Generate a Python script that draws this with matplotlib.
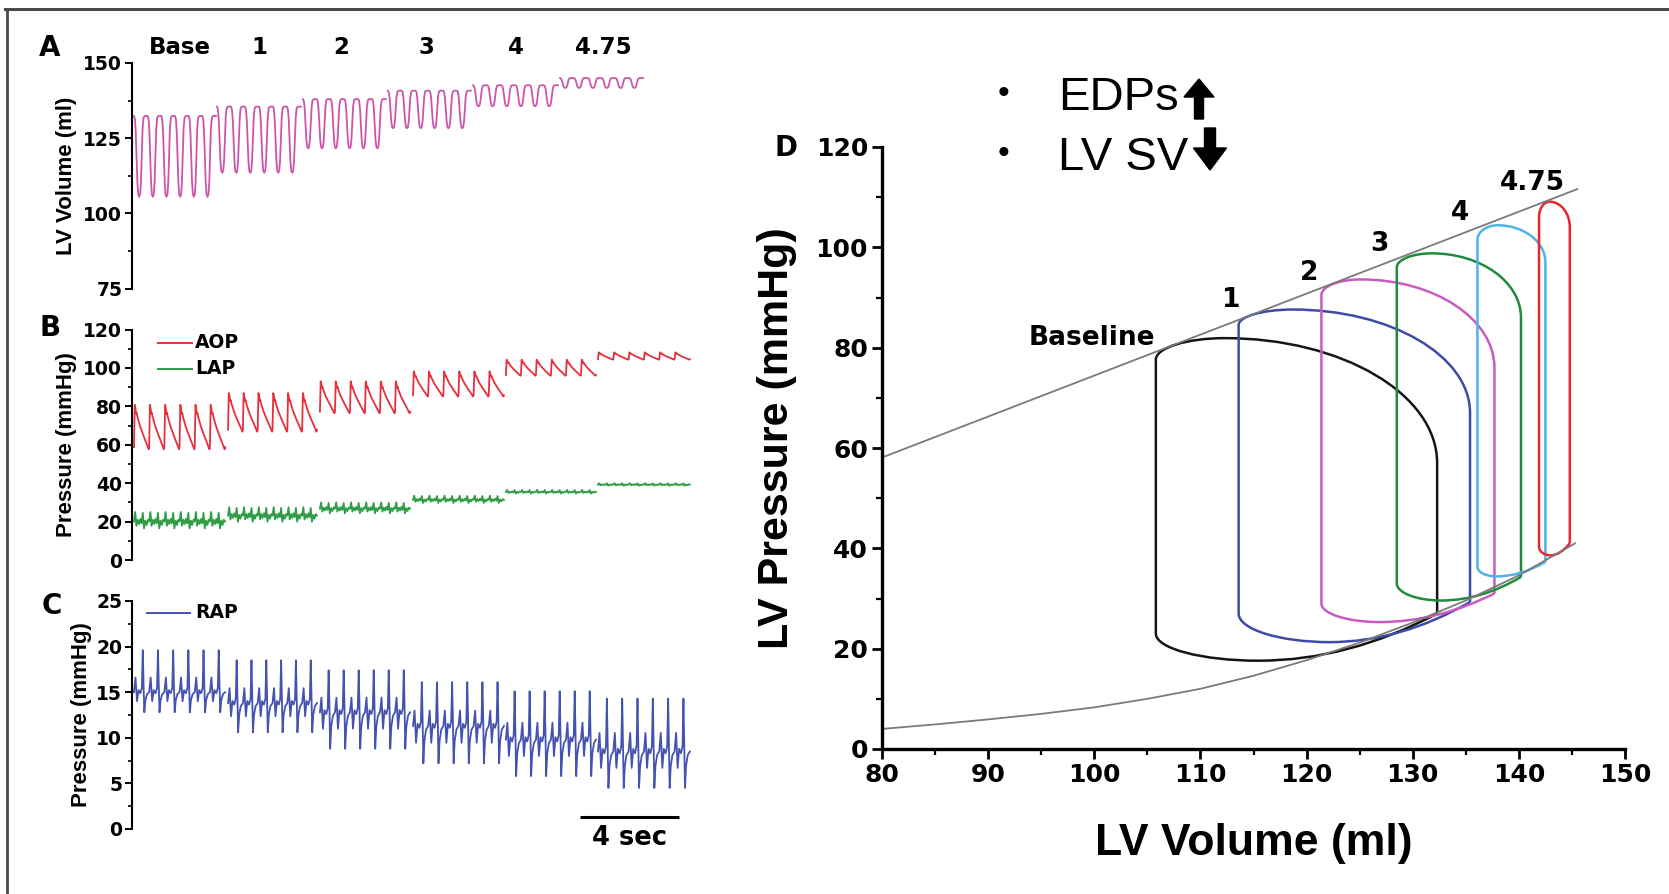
import numpy as np
import matplotlib
matplotlib.use("Agg")
import matplotlib.pyplot as plt
from matplotlib.path import Path
from matplotlib.patches import PathPatch, FancyArrow
from matplotlib.lines import Line2D
from matplotlib.ticker import MultipleLocator
import matplotlib.transforms as mtransforms

W, H = 1669, 894

# ------------------------------------------------------------------ data
stages = ["Base", "1", "2", "3", "4", "4.75"]
beats_per_stage = [6, 6, 6, 6, 6, 6]

# Panel A : LV volume (ml); time in seconds
lvv_seg_start = [0.08, 3.44, 6.92, 10.36, 13.81, 17.33]
lvv_seg_end = [3.40, 6.84, 10.28, 13.72, 17.25, 20.69]
lvv_min = [105.5, 113.5, 121.6, 128.3, 135.6, 141.7]
lvv_max = [132.4, 135.5, 138.0, 140.8, 142.6, 145.0]
lvv_beat_phase = [0.00, 0.07, 0.13, 0.19, 0.25, 0.31, 0.38, 0.45, 0.51, 0.57, 0.63, 0.70, 0.80]
lvv_beat_shape = [1.00, 0.96, 0.80, 0.50, 0.18, 0.03, 0.00, 0.03, 0.18, 0.52, 0.84, 0.98, 1.00]

# Panels B / C segments
bc_seg_start = [0.08, 3.89, 7.61, 11.38, 15.14, 18.87]
bc_seg_end = [3.77, 7.49, 11.26, 15.06, 18.79, 22.59]

aop_min = [57.6, 66.8, 76.4, 85.1, 95.9, 104.3]
aop_max = [80.8, 86.9, 93.0, 98.2, 104.3, 108.1]
aop_beat_phase = [0.00, 0.05, 0.09, 0.14, 0.18, 0.22, 0.40, 0.60, 0.80, 0.97]
aop_beat_shape = [0.05, 1.00, 0.93, 0.80, 0.82, 0.74, 0.52, 0.33, 0.15, 0.00]

lap_min = [16.0, 19.5, 24.0, 29.5, 34.5, 38.6]
lap_max = [25.0, 27.5, 30.0, 33.5, 36.5, 40.0]
lap_beat_phase = [0.00, 0.08, 0.16, 0.25, 0.33, 0.42, 0.50, 0.58, 0.66, 0.75, 0.83, 0.92]
lap_beat_shape = [0.45, 1.00, 0.20, 0.55, 0.30, 0.60, 0.35, 0.95, 0.05, 0.50, 0.25, 0.55]

rap_trough = [12.8, 10.6, 8.8, 7.2, 5.8, 4.5]
rap_mid = [15.0, 13.8, 12.8, 11.3, 9.8, 8.5]
rap_peak = [19.6, 18.5, 17.4, 16.1, 15.1, 14.3]
rap_beat_phase = [0.00, 0.10, 0.20, 0.30, 0.42, 0.52, 0.58, 0.63, 0.68, 0.75, 0.86]
rap_beat_shape = [1.00, 1.35, 0.55, 1.05, 0.95, 1.10, 2.00, 1.20, 0.00, 0.60, 0.90]

scale_bar_start = 18.14
scale_bar_seconds = 4

# Panel D : PV loops
loop_labels = ["Baseline", "1", "2", "3", "4", "4.75"]
loop_colors = ["#151515", "#3d4aa8", "#c85bbf", "#1e8c3c", "#4db4ea", "#e8262e"]
esv = [105.8, 113.6, 121.4, 128.5, 136.1, 141.9]
edv = [132.3, 135.4, 137.7, 140.2, 142.5, 144.8]
v_peak = [112.3, 118.7, 125.1, 131.8, 138.0, 142.9]
p_peak = [81.9, 87.6, 93.6, 98.8, 104.4, 109.1]
p_left_top = [77.6, 84.5, 90.5, 96.0, 101.5, 106.0]
p_right_top = [57.0, 67.0, 76.0, 86.0, 97.0, 104.0]
p_left_bottom = [23.0, 27.0, 29.0, 33.0, 36.3, 40.3]
v_min = [115.5, 122.2, 126.9, 132.7, 137.9, 143.0]
p_min = [17.6, 21.3, 25.3, 29.6, 34.4, 38.6]
edp = [27.0, 29.3, 31.0, 34.3, 37.3, 41.0]
label_vol = [99.8, 112.9, 120.2, 126.9, 134.5, 141.3]
label_p = [82.0, 89.6, 94.9, 100.6, 106.9, 112.9]

espvr_vol = [80.0, 145.5]
espvr_p = [58.1, 111.6]
edpvr_vol = [80, 85, 90, 95, 100, 105, 110, 115, 120, 125, 130, 135, 140, 145.3]
edpvr_p = [4.0, 4.9, 5.9, 7.0, 8.3, 10.0, 12.0, 14.6, 17.7, 21.2, 25.2, 29.6, 34.6, 41.0]

# ------------------------------------------------------------------ helpers
def fx(x):
    return x / W


def fy(y):
    return 1 - y / H


def axrect(x0, x1, ytop, ybot):
    return [fx(x0), fy(ybot), (x1 - x0) / W, (ybot - ytop) / H]


def tile(starts, ends, nbeats, phase, shape, level):
    ts, ys = [], []
    for i, (s, e, n) in enumerate(zip(starts, ends, nbeats)):
        d = (e - s) / n
        for b in range(n):
            for ph, v in zip(phase, shape):
                ts.append(s + (b + ph) * d)
                ys.append(level(i, v))
        ts.append(e)
        ys.append(level(i, shape[0]))
        ts.append(np.nan)
        ys.append(np.nan)
    return np.array(ts), np.array(ys)


BOLD_DV = dict(family=["DejaVu Sans"], weight="bold")
LIB = ["Liberation Sans", "DejaVu Sans"]

fig = plt.figure(figsize=(W / 100, H / 100), dpi=100)
fig.patch.set_facecolor("white")

# outer frame (top and left)
fig.add_artist(Line2D([fx(5), 1.0], [fy(9), fy(9)], color="#4a4a4a", lw=2.2, transform=fig.transFigure))
fig.add_artist(Line2D([fx(7), fx(7)], [fy(9), 0.0], color="#4a4a4a", lw=2.0, transform=fig.transFigure))


def style_trace_axis(ax, ymin, ymax, major, minor):
    ax.set_xlim(0, 23.0)
    ax.set_ylim(ymin, ymax)
    for s in ["top", "right", "bottom"]:
        ax.spines[s].set_visible(False)
    ax.spines["left"].set_linewidth(1.5)
    ax.set_xticks([])
    ax.yaxis.set_major_locator(MultipleLocator(major))
    ax.yaxis.set_minor_locator(MultipleLocator(minor))
    ax.tick_params(axis="y", which="major", length=5, width=1.4, pad=2, direction="out")
    ax.tick_params(axis="y", which="minor", length=3, width=1.2, direction="out")
    for lab in ax.get_yticklabels():
        lab.set_fontfamily("DejaVu Sans")
        lab.set_fontweight("bold")
        lab.set_fontsize(13.5)
    ax.patch.set_alpha(0)


# ---------------- Panel A
axA = fig.add_axes(axrect(132, 700, 63, 288.5))
tA, yA = tile(lvv_seg_start, lvv_seg_end, beats_per_stage, lvv_beat_phase, lvv_beat_shape,
              lambda i, v: lvv_min[i] + v * (lvv_max[i] - lvv_min[i]))
axA.plot(tA, yA, color="#cc55aa", lw=1.3)
style_trace_axis(axA, 75, 150, 25, 12.5)
fig.text(fx(50), fy(48), "A", fontsize=20, ha="center", va="center", **BOLD_DV)
fig.text(fx(66), fy(176), "LV Volume (ml)", rotation=90, fontsize=16, fontweight="bold",
         family=LIB, ha="center", va="center")
stage_x = [180, 259, 341.5, 426, 515.6, 603.6]
for s, x in zip(stages, stage_x):
    fig.text(fx(x), fy(48), s, fontsize=16.5, ha="center", va="center", **BOLD_DV)

# ---------------- Panel B
axB = fig.add_axes(axrect(132, 700, 329.5, 560))
tB, yB = tile(bc_seg_start, bc_seg_end, beats_per_stage, aop_beat_phase, aop_beat_shape,
              lambda i, v: aop_min[i] + v * (aop_max[i] - aop_min[i]))
axB.plot(tB, yB, color="#e8303c", lw=1.3)
tL, yL = tile(bc_seg_start, bc_seg_end, beats_per_stage, lap_beat_phase, lap_beat_shape,
              lambda i, v: lap_min[i] + v * (lap_max[i] - lap_min[i]))
axB.plot(tL, yL, color="#2f9d46", lw=1.3)
style_trace_axis(axB, 0, 120, 20, 10)
fig.text(fx(50), fy(328), "B", fontsize=20, ha="center", va="center", **BOLD_DV)
fig.text(fx(66), fy(445), "Pressure (mmHg)", rotation=90, fontsize=16, fontweight="bold",
         family=LIB, ha="center", va="center")
fig.add_artist(Line2D([fx(158), fx(192)], [fy(343), fy(343)], color="#e8303c", lw=1.4, transform=fig.transFigure))
fig.add_artist(Line2D([fx(158), fx(192)], [fy(369), fy(369)], color="#2f9d46", lw=1.4, transform=fig.transFigure))
fig.text(fx(195), fy(343), "AOP", fontsize=13.5, ha="left", va="center", **BOLD_DV)
fig.text(fx(195), fy(369), "LAP", fontsize=13.5, ha="left", va="center", **BOLD_DV)

# ---------------- Panel C
axC = fig.add_axes(axrect(132, 700, 601, 829))


def rap_level(i, v):
    if v <= 1:
        return rap_trough[i] + v * (rap_mid[i] - rap_trough[i])
    return rap_mid[i] + (v - 1) * (rap_peak[i] - rap_mid[i])


tC, yC = tile(bc_seg_start, bc_seg_end, beats_per_stage, rap_beat_phase, rap_beat_shape, rap_level)
axC.plot(tC, yC, color="#4453b0", lw=1.3)
style_trace_axis(axC, 0, 25, 5, 2.5)
fig.text(fx(52), fy(606), "C", fontsize=20, ha="center", va="center", **BOLD_DV)
fig.text(fx(81), fy(715), "Pressure (mmHg)", rotation=90, fontsize=16, fontweight="bold",
         family=LIB, ha="center", va="center")
fig.add_artist(Line2D([fx(147), fx(190)], [fy(613), fy(613)], color="#4453b0", lw=1.4, transform=fig.transFigure))
fig.text(fx(195), fy(613), "RAP", fontsize=13.5, ha="left", va="center", **BOLD_DV)
axC.plot([scale_bar_start, scale_bar_start + scale_bar_seconds], [1.3, 1.3], color="black", lw=2.2,
         clip_on=False, solid_capstyle="butt")
axC.text(scale_bar_start + scale_bar_seconds / 2, -1.0, f"{scale_bar_seconds} sec", fontsize=18.5,
         ha="center", va="center", clip_on=False, **BOLD_DV)

# ---------------- Panel D
axD = fig.add_axes(axrect(882, 1625, 147, 749))
axD.set_xlim(80, 150)
axD.set_ylim(0, 120)
for s in ["top", "right"]:
    axD.spines[s].set_visible(False)
for s in ["left", "bottom"]:
    axD.spines[s].set_linewidth(2.4)
axD.xaxis.set_major_locator(MultipleLocator(10))
axD.xaxis.set_minor_locator(MultipleLocator(5))
axD.yaxis.set_major_locator(MultipleLocator(20))
axD.yaxis.set_minor_locator(MultipleLocator(10))
axD.tick_params(which="major", length=7, width=2.0, direction="out", pad=3)
axD.tick_params(which="minor", length=4, width=1.6, direction="out")
for lab in axD.get_xticklabels() + axD.get_yticklabels():
    lab.set_fontfamily("DejaVu Sans")
    lab.set_fontweight("bold")
    lab.set_fontsize(18)

axD.plot(espvr_vol, espvr_p, color="#7a7a7a", lw=1.3)
axD.plot(edpvr_vol, edpvr_p, color="#7a7a7a", lw=1.3)

K = 0.5523
for i in range(len(loop_labels)):
    verts = [
        (edv[i], edp[i]),
        (edv[i], p_right_top[i]),
        (edv[i], p_right_top[i] + K * (p_peak[i] - p_right_top[i])),
        (v_peak[i] + K * (edv[i] - v_peak[i]), p_peak[i]),
        (v_peak[i], p_peak[i]),
        (v_peak[i] - K * (v_peak[i] - esv[i]), p_peak[i]),
        (esv[i], p_left_top[i] + K * (p_peak[i] - p_left_top[i])),
        (esv[i], p_left_top[i]),
        (esv[i], p_left_bottom[i]),
        (esv[i], p_left_bottom[i] - K * (p_left_bottom[i] - p_min[i])),
        (v_min[i] - K * (v_min[i] - esv[i]), p_min[i]),
        (v_min[i], p_min[i]),
        (v_min[i] + 0.5 * (edv[i] - v_min[i]), p_min[i]),
        (edv[i], edp[i]),
    ]
    codes = [Path.MOVETO, Path.LINETO,
             Path.CURVE4, Path.CURVE4, Path.CURVE4,
             Path.CURVE4, Path.CURVE4, Path.CURVE4,
             Path.LINETO,
             Path.CURVE4, Path.CURVE4, Path.CURVE4,
             Path.CURVE3, Path.CURVE3]
    axD.add_patch(PathPatch(Path(verts, codes), facecolor="none", edgecolor=loop_colors[i], lw=1.8))
    axD.text(label_vol[i], label_p[i], loop_labels[i], fontsize=19, ha="center", va="center", **BOLD_DV)

fig.text(fx(1254), fy(844), "LV Volume (ml)", fontsize=32, fontweight="bold", family=LIB,
         ha="center", va="center")
fig.text(fx(777), fy(438), "LV Pressure (mmHg)", rotation=90, fontsize=31, fontweight="bold",
         family=LIB, ha="center", va="center")
fig.text(fx(786), fy(148), "D", fontsize=20, ha="center", va="center", **BOLD_DV)

# bullets
fig.text(fx(1003), fy(95), "\u2022", fontsize=24, family=LIB, ha="center", va="center")
fig.text(fx(1003), fy(154), "\u2022", fontsize=24, family=LIB, ha="center", va="center")
fig.text(fx(1058), fy(110), "EDPs", fontsize=34, family=LIB, ha="left", va="baseline")
fig.text(fx(1058), fy(170), "LV SV", fontsize=34, family=LIB, ha="left", va="baseline")
pix = mtransforms.IdentityTransform()
fig.patches.append(FancyArrow(1199, H - 119, 0, 40, width=9, head_width=30, head_length=18,
                              length_includes_head=True, color="black", transform=pix, figure=fig))
fig.patches.append(FancyArrow(1210, H - 128, 0, -42, width=11, head_width=33, head_length=22,
                              length_includes_head=True, color="black", transform=pix, figure=fig))

fig.savefig("out.png", dpi=100, facecolor="white")
